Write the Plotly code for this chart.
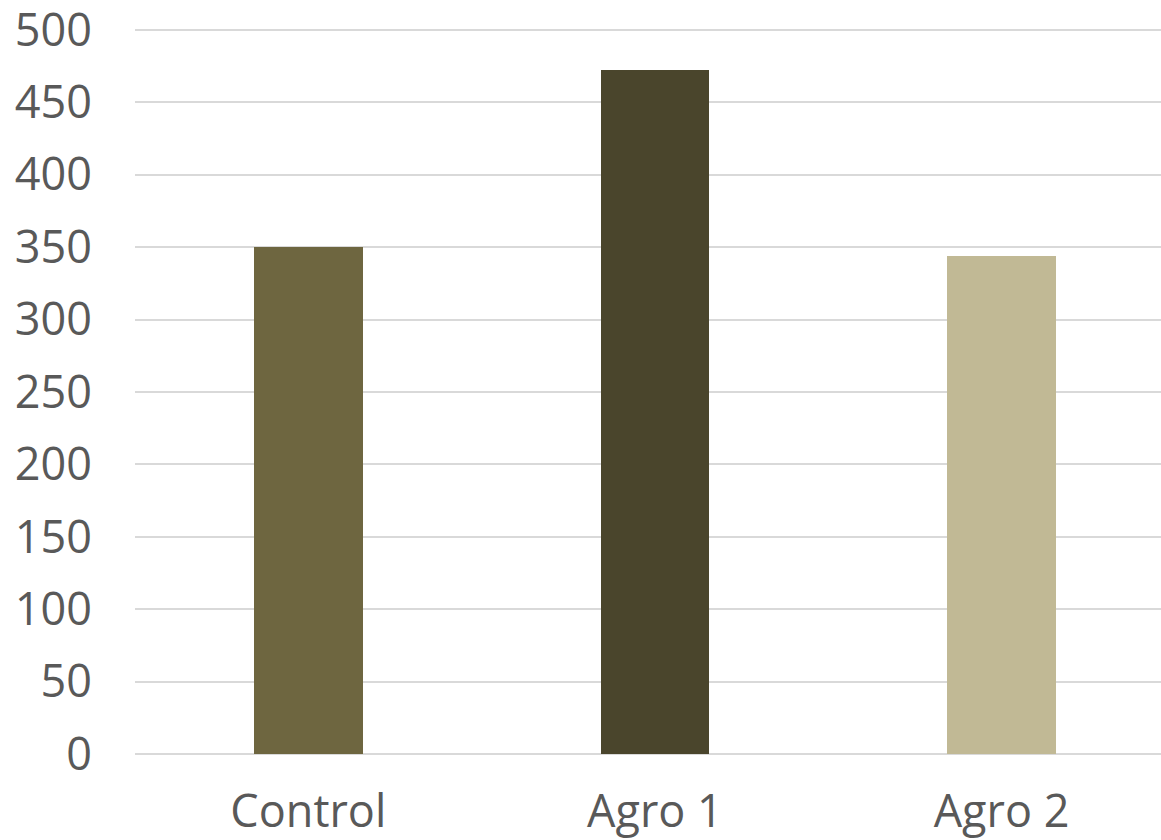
import plotly.graph_objects as go

categories = ["Control", "Agro 1", "Agro 2"]
values = [350, 472, 344]
colors = ["#6E6640", "#4A452C", "#C1B995"]
y_ticks = [0, 50, 100, 150, 200, 250, 300, 350, 400, 450, 500]

fig = go.Figure(go.Bar(x=categories, y=values, marker=dict(color=colors, line=dict(width=0)), width=0.314))

fig.update_layout(
    width=1161, height=840,
    margin=dict(l=135, r=0, t=27, b=86),
    paper_bgcolor="white", plot_bgcolor="white",
    font=dict(family="Open Sans", size=45, color="#595959"),
    showlegend=False,
    bargap=0,
)
fig.update_xaxes(range=[-0.5, 2.46], showgrid=False, showline=False, ticks="", ticklabelstandoff=27,
                 automargin=False)
fig.update_yaxes(range=[0, 502], tickvals=y_ticks, showgrid=True, gridcolor="#D9D9D9", gridwidth=2,
                 zeroline=True, zerolinecolor="#D9D9D9", zerolinewidth=2, ticks="", ticklabelstandoff=42,
                 ticklabeloverflow="allow", automargin=False)

fig.write_html("out.html", config={"displayModeBar": False},
               post_script="document.body.style.margin='0';document.body.style.overflow='hidden';")
